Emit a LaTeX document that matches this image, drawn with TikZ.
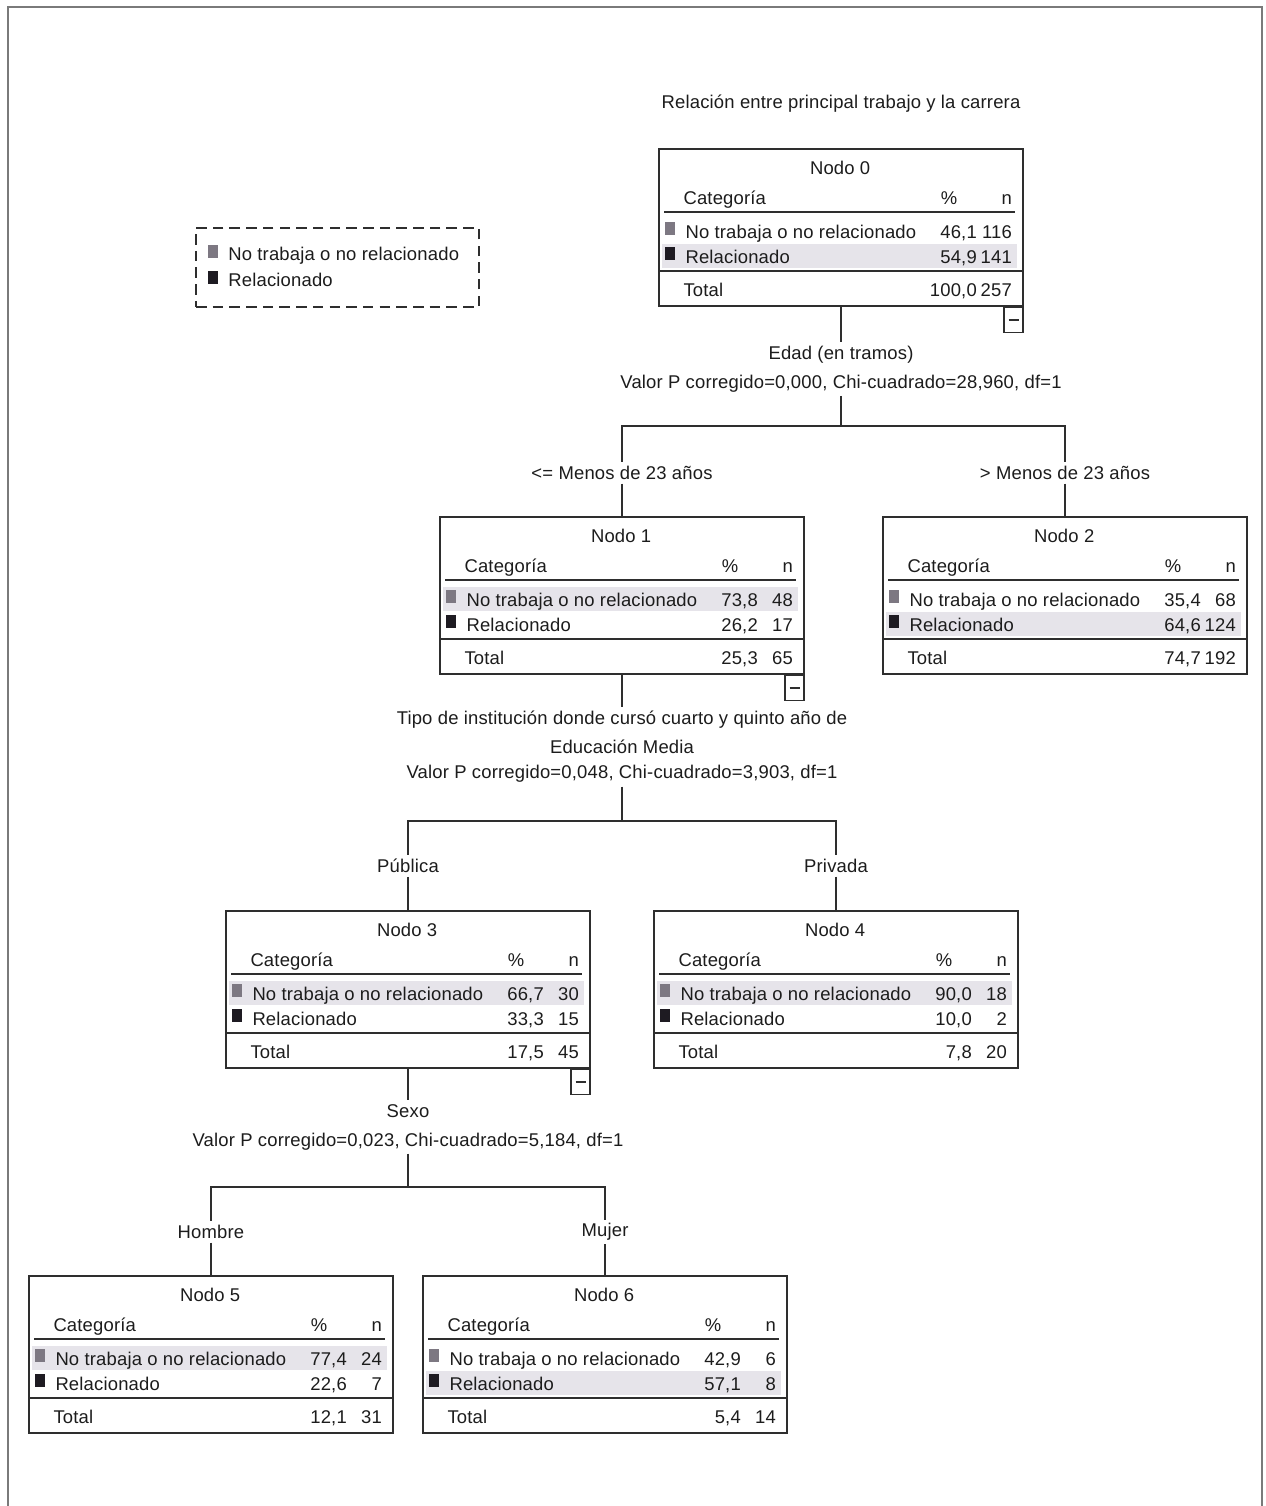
\documentclass[tikz,border=0pt]{standalone}
\usepackage{fontspec}
\setmainfont{Liberation Sans}[LetterSpace=1]
\usepackage{tikz}
\usetikzlibrary{positioning}
\definecolor{borde}{HTML}{2E2E2E}
\definecolor{texto}{HTML}{1C1C1C}
\definecolor{marco}{HTML}{7A7A7A}
\definecolor{sombra}{HTML}{E6E4EA}
\definecolor{cgris}{HTML}{7D7882}
\definecolor{cnegro}{HTML}{1E1B22}
\tikzstyle{txt}=[inner sep=0pt,text=texto,font=\fontsize{10.5}{12}\selectfont]
\tikzstyle{caja}=[draw=borde,line width=1pt,minimum width=7.28cm,minimum height=3.14cm,inner sep=0pt]
\tikzstyle{regla}=[draw=borde,line width=1.1pt]
\tikzstyle{linea}=[draw=borde,line width=0.9pt]
\tikzstyle{rama}=[txt,fill=white,inner sep=2pt,align=center,font=\fontsize{10.5}{16.5}\selectfont]
\tikzstyle{menos}=[draw=borde,line width=0.8pt,minimum width=0.38cm,minimum height=0.5cm,inner sep=0pt,
  path picture={\draw[line width=0.7pt] ([xshift=2.5pt]path picture bounding box.west) -- ([xshift=-2.5pt]path picture bounding box.east);}]
\tikzstyle{leyenda}=[draw=borde,line width=1.1pt,dash pattern=on 6pt off 3.5pt,minimum width=5.66cm,minimum height=1.58cm]

% contenido de una caja: nombre, titulo, %1, n1, %2, n2, %total, n total, fila sombreada
\newcommand{\tabla}[9]{%
  \begin{scope}[shift={(#1.north west)}]
    \fill[sombra] (4,#9-12) rectangle (359,#9+12);
    \node[txt,anchor=base] (#1t) at (182,26) {#2};
    \node[txt,anchor=base west] (#1c) at (25,56) {Categoría};
    \node[txt,anchor=base] (#1p) at (291,56) {\%};
    \node[txt,anchor=base east] (#1n) at (354,56) {n};
    \draw[regla] (6,64) -- (357,64);
    \fill[cgris] (7,74) rectangle (17,87);
    \node[txt,anchor=base west] (#1a) at (27,90) {No trabaja o no relacionado};
    \node[txt,anchor=base east] (#1ap) at (319,90) {#3};
    \node[txt,anchor=base east] (#1an) at (354,90) {#4};
    \fill[cnegro] (7,99) rectangle (17,112);
    \node[txt,anchor=base west] (#1b) at (27,115) {Relacionado};
    \node[txt,anchor=base east] (#1bp) at (319,115) {#5};
    \node[txt,anchor=base east] (#1bn) at (354,115) {#6};
    \draw[regla] (0,123) -- (364,123);
    \node[txt,anchor=base west] (#1s) at (25,148) {Total};
    \node[txt,anchor=base east] (#1sp) at (319,148) {#7};
    \node[txt,anchor=base east] (#1sn) at (354,148) {#8};
  \end{scope}}

\begin{document}
\begin{tikzpicture}[x=0.02cm,y=-0.02cm]
    \useasboundingbox (0,0) rectangle (1266,1506);
    \draw[draw=marco,line width=1.2pt] (8,1506) -- (8,7) -- (1262,7) -- (1262,1506);

    \node[txt] (titulo) at (841,104) {Relación entre principal trabajo y la carrera};

    % leyenda
    \node[leyenda] (ley) at (337.5,267.5) {};
    \fill[cgris] (208,245) rectangle (218,258);
    \node[txt,anchor=base west] (ley1) at (228,261) {No trabaja o no relacionado};
    \fill[cnegro] (208,271) rectangle (218,284);
    \node[txt,anchor=base west] (ley2) at (228,287) {Relacionado};

    % cajas
    \node[caja] (n0) at (841,227.5) {};
    \node[caja] (n1) at (622,595.5) {};
    \node[caja] (n2) at (1065,595.5) {};
    \node[caja] (n3) at (408,989.5) {};
    \node[caja] (n4) at (836,989.5) {};
    \node[caja] (n5) at (211,1354.5) {};
    \node[caja] (n6) at (605,1354.5) {};

    \tabla{n0}{Nodo 0}{46,1}{116}{54,9}{141}{100,0}{257}{108}
    \tabla{n1}{Nodo 1}{73,8}{48}{26,2}{17}{25,3}{65}{83}
    \tabla{n2}{Nodo 2}{35,4}{68}{64,6}{124}{74,7}{192}{108}
    \tabla{n3}{Nodo 3}{66,7}{30}{33,3}{15}{17,5}{45}{83}
    \tabla{n4}{Nodo 4}{90,0}{18}{10,0}{2}{7,8}{20}{83}
    \tabla{n5}{Nodo 5}{77,4}{24}{22,6}{7}{12,1}{31}{83}
    \tabla{n6}{Nodo 6}{42,9}{6}{57,1}{8}{5,4}{14}{108}

    \node[menos,anchor=north east] (n0m) at (n0.south east) {};
    \node[menos,anchor=north east] (n1m) at (n1.south east) {};
    \node[menos,anchor=north east] (n3m) at (n3.south east) {};

    % divisiones
    \node[rama] (s0) at (841,369) {Edad (en tramos)\\Valor P corregido=0,000, Chi-cuadrado=28,960, df=1};
    \node[rama] (s1) at (622,747) {Tipo de institución donde cursó cuarto y quinto año de\\Educación Media\\[-2.3pt]Valor P corregido=0,048, Chi-cuadrado=3,903, df=1};
    \node[rama] (s2) at (408,1127) {Sexo\\Valor P corregido=0,023, Chi-cuadrado=5,184, df=1};

    \node[rama] (r1) at (622,473) {<= Menos de 23 años};
    \node[rama] (r2) at (1065,473) {> Menos de 23 años};
    \node[rama] (r3) at (408,866) {Pública};
    \node[rama] (r4) at (836,866) {Privada};
    \node[rama] (r5) at (211,1232) {Hombre};
    \node[rama] (r6) at (605,1232) {Mujer};

    \coordinate (j0) at (841,426);
    \coordinate (j1) at (622,821);
    \coordinate (j2) at (408,1187);

    \draw[linea] (n0.south) -- (s0.north);
    \draw[linea] (s0.south) -- (j0);
    \draw[linea] (j0) -| (r1.north);
    \draw[linea] (j0) -| (r2.north);
    \draw[linea] (r1.south) -- (n1.north);
    \draw[linea] (r2.south) -- (n2.north);

    \draw[linea] (n1.south) -- (s1.north);
    \draw[linea] (s1.south) -- (j1);
    \draw[linea] (j1) -| (r3.north);
    \draw[linea] (j1) -| (r4.north);
    \draw[linea] (r3.south) -- (n3.north);
    \draw[linea] (r4.south) -- (n4.north);

    \draw[linea] (n3.south) -- (s2.north);
    \draw[linea] (s2.south) -- (j2);
    \draw[linea] (j2) -| (r5.north);
    \draw[linea] (j2) -| (r6.north);
    \draw[linea] (r5.south) -- (n5.north);
    \draw[linea] (r6.south) -- (n6.north);
\end{tikzpicture}
\end{document}
